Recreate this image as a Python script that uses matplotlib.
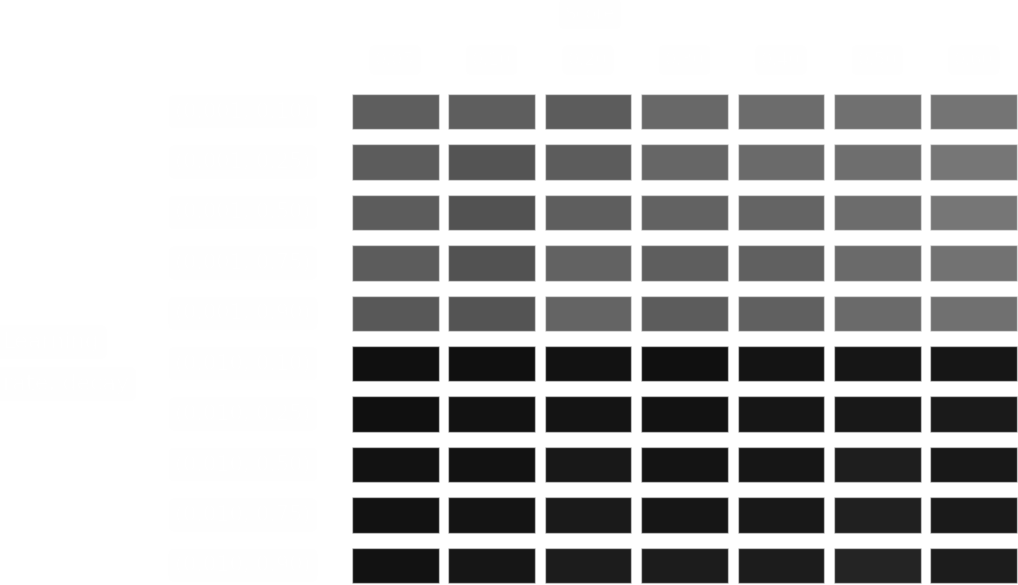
import matplotlib as mpl
mpl.use("Agg")
import matplotlib.pyplot as plt
import matplotlib.transforms as mtransforms
from matplotlib.patches import Rectangle
import numpy as np


TITLE = "Score"
GROUP_LABEL = ["Learning", "rate, decay"]
COL_LABELS = ["0.05", "0.10", "0.20", "0.30", "0.40", "0.50", "0.60"]
ROW_LABELS = [
    "(0.001, 0.10)", "(0.001, 0.25)", "(0.001, 0.50)", "(0.001, 0.75)", "(0.001, 0.90)",
    "(0.010, 0.10)", "(0.010, 0.25)", "(0.010, 0.50)", "(0.010, 0.75)", "(0.010, 0.90)",
]

# cell shade (0 = black, 1 = white)
SHADE = np.array([
    [94, 94, 92, 104, 108, 112, 116],
    [92, 84, 92, 102, 106, 110, 118],
    [92, 82, 94, 98, 100, 108, 118],
    [92, 82, 98, 94, 96, 106, 114],
    [88, 84, 100, 92, 96, 106, 112],
    [16, 16, 18, 16, 20, 22, 22],
    [16, 18, 20, 18, 22, 24, 26],
    [18, 18, 24, 20, 22, 30, 24],
    [18, 20, 26, 22, 24, 32, 26],
    [18, 22, 28, 28, 28, 36, 28],
]) / 255.0


W, H = 1018, 585
fig = plt.figure(figsize=(W / 100, H / 100), dpi=100)
fig.patch.set_facecolor("white")

# axes in pixel units: left 347, top 86.5, 675 wide, 504 tall
ax = fig.add_axes([347 / W, (H - 590.5) / H, 675 / W, 504 / H])
ax.set_xlim(-0.5, len(COL_LABELS) - 0.5)
ax.set_ylim(len(ROW_LABELS) - 0.5, -0.5)
ax.axis("off")

cmap = plt.get_cmap("gray")
norm = mpl.colors.Normalize(vmin=0, vmax=1)
cw, ch = 0.9, 0.7
for i in range(len(ROW_LABELS)):
    for j in range(len(COL_LABELS)):
        ax.add_patch(Rectangle((j - cw / 2, i - ch / 2), cw, ch,
                               facecolor=cmap(norm(SHADE[i, j])),
                               edgecolor=(1, 1, 1, 0.45), linewidth=1.0))

box = dict(boxstyle="round,pad=0.3", facecolor="#fefefe", edgecolor="none")
txt_color = "#ffffff"

# row labels, centred at x=243px
row_tr = mtransforms.blended_transform_factory(fig.transFigure, ax.transData)
for i, lab in enumerate(ROW_LABELS):
    ax.text(243 / W, i, lab, transform=row_tr, ha="center", va="center",
            fontsize=15, color=txt_color, bbox=box)

# column labels, centred at y=60px
col_tr = mtransforms.blended_transform_factory(ax.transData, fig.transFigure)
for j, lab in enumerate(COL_LABELS):
    ax.text(j, (H - 60) / H, lab, transform=col_tr, ha="center", va="center",
            fontsize=13, color=txt_color, bbox=box)

fig.text(590 / W, (H - 14) / H, TITLE, ha="center", va="center",
         fontsize=13, color=txt_color, bbox=box)
fig.text(3 / W, (H - 342) / H, GROUP_LABEL[0], ha="left", va="center",
         fontsize=16, color=txt_color, bbox=box)
fig.text(3 / W, (H - 384) / H, GROUP_LABEL[1], ha="left", va="center",
         fontsize=16, color=txt_color, bbox=box)

fig.savefig("out.png", dpi=100, facecolor="white")
